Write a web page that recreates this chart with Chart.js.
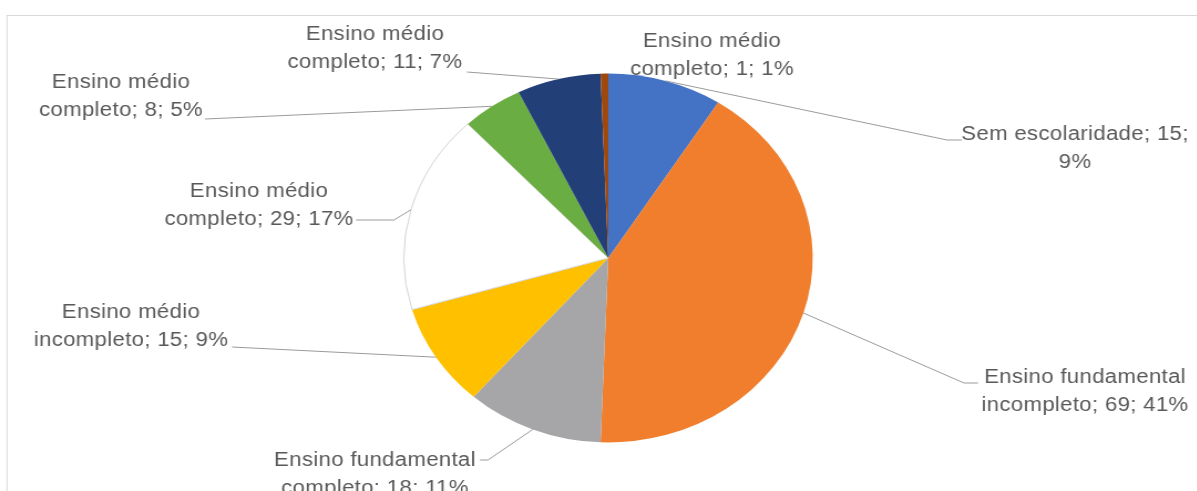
<!DOCTYPE html>
<html>
<head>
<meta charset="utf-8">
<script src="https://cdn.jsdelivr.net/npm/chart.js@4.4.1/dist/chart.umd.min.js"></script>
<style>
  html, body { margin: 0; padding: 0; background: #fff; overflow: hidden; }
  /* the source picture is a screenshot stretched sideways, so the page stretches the same way */
  #wrap { width: 1081px; height: 491px; transform: scaleX(1.108); transform-origin: 0 0; }
</style>
</head>
<body>
<div id="wrap"><canvas id="pie"></canvas></div>
<script>
const categories = [
  "Sem escolaridade",
  "Ensino fundamental incompleto",
  "Ensino fundamental completo",
  "Ensino médio incompleto",
  "Ensino médio completo",
  "Ensino médio completo",
  "Ensino médio completo",
  "Ensino médio completo"
];
const values = [15, 69, 18, 15, 29, 8, 11, 1];
const percents = ["9%", "41%", "11%", "9%", "17%", "5%", "7%", "1%"];
const sliceColors = ["#4472C4", "#F07E2C", "#A6A6A8", "#FFC000", "#FFFFFF", "#6AAD42", "#223F78", "#9E480E"];

const stretch = 1.108;

// label spots (stretched px): centre x, first baseline,
// words kept on line 1, and leader points going from the label towards the slice
const labelLayout = [
  { cx: 1075, y: 140, split: 3, leader: [[962, 140], [947, 140]] },
  { cx: 1085, y: 383, split: 2, leader: [[978, 383], [964, 383]] },
  { cx: 375, y: 466, split: 2, leader: [[480, 460], [488, 460]] },
  { cx: 131, y: 318, split: 2, leader: [[232, 347]] },
  { cx: 259, y: 197, split: 2, leader: [[356, 220], [394, 220]] },
  { cx: 121, y: 88, split: 2, leader: [[205, 119]] },
  { cx: 375, y: 40, split: 2, leader: [[467, 72]] },
  { cx: 712, y: 47, split: 2, leader: [] }
];

function labelLines(i) {
  const words = `${categories[i]}; ${values[i]}; ${percents[i]}`.split(" ");
  const n = labelLayout[i].split;
  return [words.slice(0, n).join(" "), words.slice(n).join(" ")];
}

// frame, leader lines and the data labels
const labelPlugin = {
  id: "pieLabels",
  afterDraw(chart) {
    const ctx = chart.ctx;
    ctx.save();

    ctx.strokeStyle = "#d9d9d9";
    ctx.lineWidth = 1;
    ctx.strokeRect(7 / stretch, 15.5, 2000, 1000);

    const arcs = chart.getDatasetMeta(0).data;
    arcs.forEach((arc, i) => {
      const lay = labelLayout[i];
      const { x, y, startAngle, endAngle, outerRadius } = arc.getProps(["x", "y", "startAngle", "endAngle", "outerRadius"]);
      const mid = (startAngle + endAngle) / 2;

      if (lay.leader.length) {
        ctx.strokeStyle = "#9a9a9a";
        ctx.lineWidth = 1;
        ctx.beginPath();
        lay.leader.forEach(([px, py], k) => {
          if (k === 0) ctx.moveTo(px / stretch, py);
          else ctx.lineTo(px / stretch, py);
        });
        ctx.lineTo(x + Math.cos(mid) * outerRadius, y + Math.sin(mid) * outerRadius);
        ctx.stroke();
      }

      ctx.fillStyle = "#595959";
      ctx.font = "20px 'Liberation Sans', Arial, sans-serif";
      ctx.letterSpacing = "0.3px";
      ctx.textAlign = "center";
      ctx.textBaseline = "alphabetic";
      labelLines(i).forEach((line, k) => {
        ctx.fillText(line, lay.cx / stretch, lay.y + k * 28);
      });
    });

    ctx.restore();
  }
};

new Chart(document.getElementById("pie"), {
  type: "pie",
  data: {
    labels: categories,
    datasets: [{
      data: values,
      backgroundColor: sliceColors,
      borderColor: "#d4d4d4",
      borderWidth: [0, 0, 0, 0, 1, 0, 0, 0]
    }]
  },
  options: {
    responsive: true,
    maintainAspectRatio: false,
    animation: false,
    layout: { padding: { top: 73, bottom: 48, left: 249, right: 232 } },
    plugins: {
      legend: { display: false },
      tooltip: { enabled: false }
    }
  },
  plugins: [labelPlugin]
});
</script>
</body>
</html>
